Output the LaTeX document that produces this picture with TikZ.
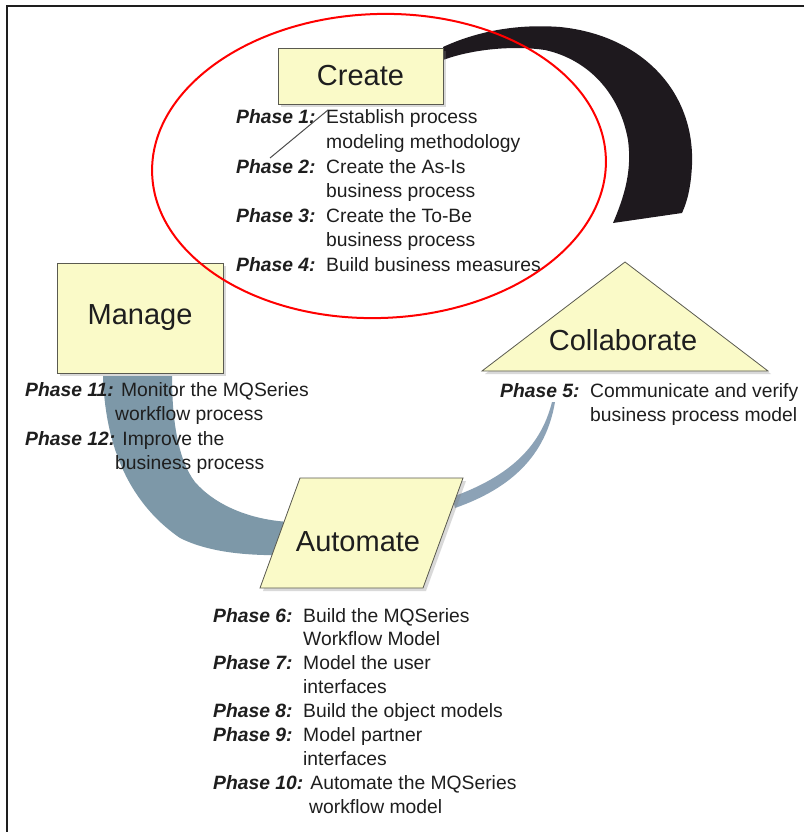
\documentclass[tikz,border=0pt]{standalone}
\usepackage{fontspec}
\setmainfont{Liberation Sans}
\usetikzlibrary{shadows}

\definecolor{boxfill}{RGB}{250,250,200}
\definecolor{boxline}{RGB}{90,90,80}
\definecolor{bandblue}{RGB}{125,152,168}
\definecolor{bandlight}{RGB}{140,162,182}
\definecolor{banddark}{RGB}{30,25,30}
\definecolor{inkgray}{RGB}{30,30,30}
\newcommand{\phase}[1]{{\bfseries\itshape #1}}

\tikzset{
  phasebox/.style={draw=boxline, fill=boxfill, line width=0.8pt, inner sep=0pt,
    drop shadow={shadow xshift=3pt, shadow yshift=-3pt, fill=gray, opacity=0.3}},
  titletext/.style={font=\fontsize{29}{34}\selectfont, text=inkgray},
  phasetext/.style={anchor=base west, inner sep=0pt, text=inkgray,
    font=\fontsize{19.3}{24.6}\selectfont}
}

\begin{document}
\begin{tikzpicture}[x=1pt, y=-1pt]
\useasboundingbox (0,0) rectangle (804,832);
% frame
\draw[line width=1.5pt, inkgray] (804,6) -- (7,6) -- (7,832);

% bands behind the phase shapes
\fill[banddark] (443,47) .. controls (480,30) and (520,24) .. (560,27)
  .. controls (640,35) and (695,90) .. (692,165)
  .. controls (691,185) and (688,200) .. (682,213) -- (613,223)
  .. controls (625,195) and (632,170) .. (628,140)
  .. controls (620,95) and (590,60) .. (545,50)
  .. controls (510,45) and (470,50) .. (443,60) -- cycle;
\fill[bandblue] (103,376) .. controls (105,440) and (125,500) .. (180,538)
  .. controls (210,553) and (250,556) .. (290,555) -- (290,522)
  .. controls (250,520) and (215,505) .. (195,482)
  .. controls (178,460) and (172,420) .. (172,376) -- cycle;
\fill[bandlight] (552,402) .. controls (540,450) and (505,478) .. (452,497)
  -- (455,508) .. controls (512,488) and (546,455) .. (555,402) -- cycle;

% phase shapes
\node[phasebox, minimum width=165pt, minimum height=56pt] (create) at (360.5,76) {};
\node[titletext] at (create.center) {Create};
\node[phasebox, minimum width=166pt, minimum height=110pt] (manage) at (140,318) {};
\node[titletext] at (manage.center) {Manage};
\draw[phasebox] (482,371) -- (625,262) -- (768,371) -- cycle;
\node[titletext] (collab) at (623,340) {Collaborate};
\draw[phasebox] (300,478) -- (463,478) -- (423,588) -- (260,588) -- cycle;
\node[titletext] (automate) at (358,542) {Automate};

% phase lists
\node[phasetext] (createtxt) at (236,124) {\begin{tabular}[t]{@{}p{90pt}@{}l@{}}
\phase{Phase 1:} & Establish process\\
 & modeling methodology\\
\phase{Phase 2:} & Create the As-Is\\
 & business process\\
\phase{Phase 3:} & Create the To-Be\\
 & business process\\
\phase{Phase 4:} & Build business measures
\end{tabular}};
\node[phasetext] (managetxt) at (25,396) {\begin{tabular}[t]{@{}l@{}}
\phase{Phase 11:} Monitor the MQSeries\\
\hspace{90pt}workflow process\\
\phase{Phase 12:} Improve the\\
\hspace{90pt}business process
\end{tabular}};
\node[phasetext] (collabtxt) at (500,397) {\begin{tabular}[t]{@{}p{90pt}@{}l@{}}
\phase{Phase 5:} & Communicate and verify\\
 & business process model
\end{tabular}};
\node[phasetext, font=\fontsize{19.3}{23.9}\selectfont] (automatetxt) at (213,622) {\begin{tabular}[t]{@{}p{90pt}@{}l@{}}
\phase{Phase 6:} & Build the MQSeries\\
 & Workflow Model\\
\phase{Phase 7:} & Model the user\\
 & interfaces\\
\phase{Phase 8:} & Build the object models\\
\phase{Phase 9:} & Model partner\\
 & interfaces\\
\multicolumn{2}{@{}l@{}}{\phase{Phase 10:} Automate the MQSeries}\\
\multicolumn{2}{@{}l@{}}{\hspace{96pt}workflow model}
\end{tabular}};

% thin stroke over phase 1
\draw[gray!60!black, line width=1pt] (328,110) -- (270,158);

% highlight
\draw[red, line width=2pt, rotate around={2:(379,166)}] (379,166) ellipse [x radius=227, y radius=152];
\end{tikzpicture}
\end{document}
